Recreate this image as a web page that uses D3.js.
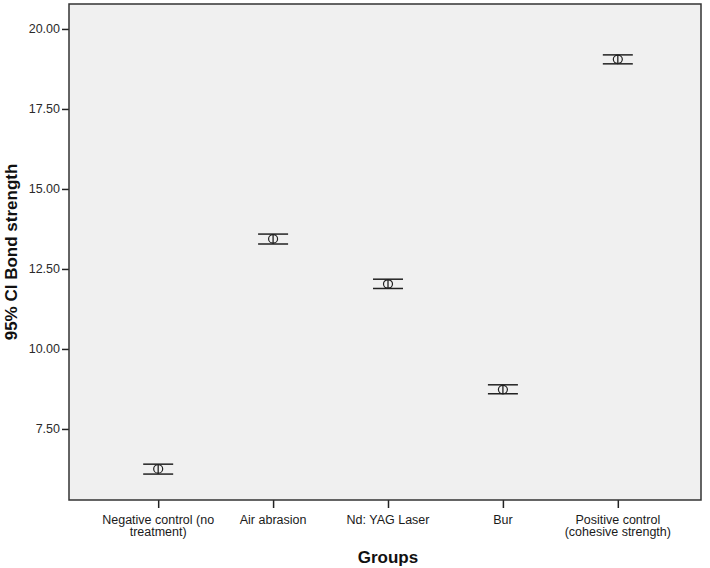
<!DOCTYPE html>
<html><head><meta charset="utf-8">
<script src="https://cdn.jsdelivr.net/npm/d3@7/dist/d3.min.js"></script>
<style>body{margin:0;background:#fff;} svg{display:block;font-family:"Liberation Sans",Arial,sans-serif;}</style>
</head><body>
<svg id="c" width="710" height="568"></svg>
<script>
const categories = ["Negative control (no treatment)", "Air abrasion", "Nd: YAG Laser", "Bur", "Positive control (cohesive strength)"];
const categoryLines = [["Negative control (no","treatment)"],["Air abrasion"],["Nd: YAG Laser"],["Bur"],["Positive control","(cohesive strength)"]];
const means = [6.25, 13.44, 12.03, 8.73, 19.05];
const lowerCI = [6.09, 13.28, 11.89, 8.60, 18.91];
const upperCI = [6.40, 13.59, 12.18, 8.88, 19.19];
const yTicks = [7.5, 10, 12.5, 15, 17.5, 20];

const svg = d3.select("#c");
const L = 69, R = 701, T = 4, B = 500;
const y = d3.scaleLinear().domain([5.28, 20.78]).range([B, T]);
const x = d3.scalePoint().domain(categories).range([L + 3, R + 3]).padding(0.75);

svg.append("rect").attr("x", L).attr("y", T).attr("width", R - L).attr("height", B - T)
  .attr("fill", "#f0f0f0");

const yAxis = svg.append("g").attr("transform", `translate(${L},0)`)
  .call(d3.axisLeft(y).tickValues(yTicks).tickFormat(d3.format(".2f")).tickSize(7).tickPadding(2));
yAxis.select(".domain").remove();
yAxis.selectAll("line").attr("stroke", "#222").attr("stroke-width", 1.5);
yAxis.selectAll("text").attr("font-size", 12.5).attr("fill", "#2a2a2a").attr("font-family", "Liberation Sans, Arial, sans-serif");

const xAxis = svg.append("g").attr("transform", `translate(0,${B})`)
  .call(d3.axisBottom(x).tickSize(8).tickFormat(""));
xAxis.select(".domain").remove();
xAxis.selectAll("line").attr("stroke", "#222").attr("stroke-width", 1.5);

categories.forEach((c, i) => {
  categoryLines[i].forEach((ln, j) => {
    svg.append("text").attr("x", x(c)).attr("y", 523.5 + j * 12.5)
      .attr("text-anchor", "middle").attr("font-size", 12.5).attr("fill", "#1a1a1a").text(ln);
  });
});

svg.append("rect").attr("x", L).attr("y", T).attr("width", R - L).attr("height", B - T)
  .attr("fill", "none").attr("stroke", "#333").attr("stroke-width", 1.5);

const g = svg.append("g").selectAll("g").data(categories).join("g");
const capW = 15;
g.append("line").attr("x1", (d) => x(d)).attr("x2", (d) => x(d))
  .attr("y1", (d, i) => y(lowerCI[i])).attr("y2", (d, i) => y(upperCI[i]))
  .attr("stroke", "#222").attr("stroke-width", 1.3);
g.append("line").attr("x1", (d) => x(d) - capW).attr("x2", (d) => x(d) + capW)
  .attr("y1", (d, i) => y(upperCI[i])).attr("y2", (d, i) => y(upperCI[i]))
  .attr("stroke", "#222").attr("stroke-width", 1.5);
g.append("line").attr("x1", (d) => x(d) - capW).attr("x2", (d) => x(d) + capW)
  .attr("y1", (d, i) => y(lowerCI[i])).attr("y2", (d, i) => y(lowerCI[i]))
  .attr("stroke", "#222").attr("stroke-width", 1.5);
g.append("ellipse").attr("cx", (d) => x(d)).attr("cy", (d, i) => y(means[i]))
  .attr("rx", 4.5).attr("ry", 4.2).attr("fill", "none").attr("stroke", "#222").attr("stroke-width", 1.2);

svg.append("text").attr("transform", `translate(17,${(T + B) / 2}) rotate(-90)`)
  .attr("text-anchor", "middle").attr("font-size", 17).attr("font-weight", "bold").attr("fill", "#111")
  .text("95% CI Bond strength");
svg.append("text").attr("x", x(categories[2])).attr("y", 563)
  .attr("text-anchor", "middle").attr("font-size", 17).attr("font-weight", "bold").attr("fill", "#111")
  .text("Groups");
</script>
</body></html>
